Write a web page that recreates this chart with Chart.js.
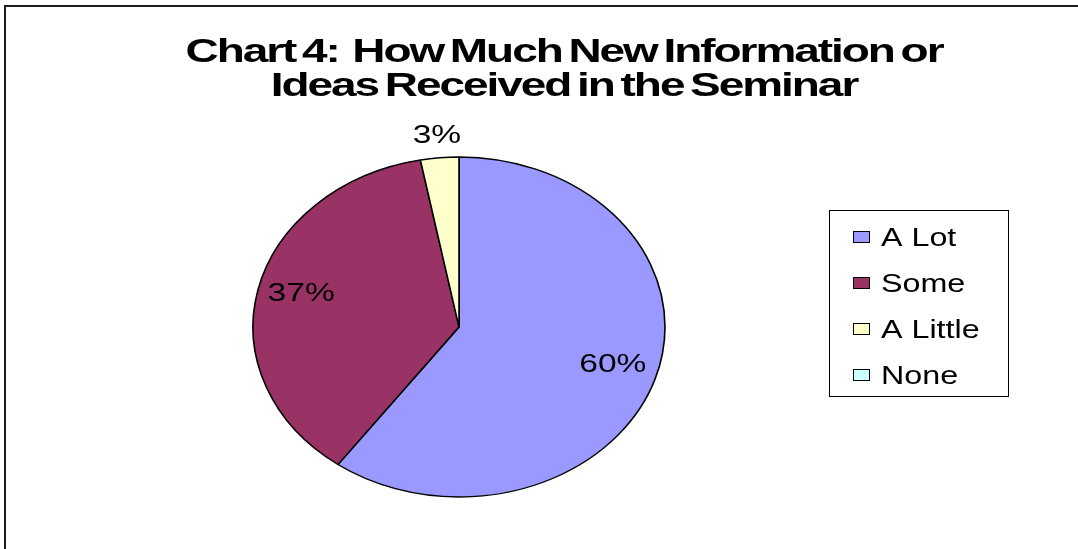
<!DOCTYPE html>
<html><head><meta charset="utf-8">
<script src="https://cdn.jsdelivr.net/npm/chart.js@4/dist/chart.umd.min.js"></script>
<style>html,body{margin:0;padding:0;background:#fff;overflow:hidden}canvas{display:block}</style>
</head><body>
<canvas id="c" width="1078" height="549"></canvas>
<script>
const titleLines = ['Chart 4:  How Much New Information or', 'Ideas Received in the Seminar'];
const categories = ['A Lot', 'Some', 'A Little', 'None'];
const percentValues = [60, 37, 3, 0];
const sliceColors = ['#9999FF', '#993366', '#FFFFCC', '#CCFFFF'];

const FONT = '"Liberation Sans", Arial, Helvetica, sans-serif';
const Y_RATIO = 170 / 206;
const TEXT_SX = 1.29;

function stretchText(ctx, text, x, y, sx, align) {
  const w = ctx.measureText(text).width * sx;
  const left = align === 'center' ? x - w / 2 : x;
  ctx.save();
  ctx.translate(left, y);
  ctx.scale(sx, 1);
  ctx.textAlign = 'left';
  ctx.textBaseline = 'alphabetic';
  ctx.fillText(text, 0, 0);
  ctx.restore();
}

const ellipsePlugin = {
  id: 'ellipsePie',
  beforeDraw(chart) {
    const ctx = chart.ctx;
    ctx.save();
    ctx.fillStyle = '#ffffff';
    ctx.fillRect(0, 0, chart.width, chart.height);
    ctx.fillStyle = '#1e1e1e';
    ctx.fillRect(4, 5, 2, chart.height - 5);
    ctx.fillRect(4, 5, chart.width - 4, 2);
    ctx.restore();
  },
  beforeDatasetsDraw(chart) {
    const arc = chart.getDatasetMeta(0).data[0];
    const ctx = chart.ctx;
    ctx.save();
    ctx.translate(arc.x, arc.y);
    ctx.scale(1, Y_RATIO);
    ctx.translate(-arc.x, -arc.y);
  },
  afterDatasetsDraw(chart) {
    const ctx = chart.ctx;
    ctx.restore();
    const meta = chart.getDatasetMeta(0);
    const data = chart.data.datasets[0].data;
    const total = data.reduce((a, b) => a + b, 0);
    ctx.save();
    ctx.fillStyle = '#000';
    ctx.font = '26px ' + FONT;
    meta.data.forEach((arc, i) => {
      const v = data[i];
      if (!v) return;
      const pct = Math.round(v / total * 100);
      const p = arc.getProps(['x', 'y', 'startAngle', 'endAngle', 'outerRadius'], true);
      const mid = (p.startAngle + p.endAngle) / 2;
      const inside = pct >= 5;
      const k = inside ? 0.785 : 1.14;
      const dy = inside ? -6 : 0;
      const lx = p.x + Math.cos(mid) * p.outerRadius * k;
      const ly = p.y + Math.sin(mid) * p.outerRadius * k * Y_RATIO + dy;
      stretchText(ctx, pct + '%', lx, ly + 9.3, TEXT_SX, 'center');
    });
    ctx.restore();
  },
  afterDraw(chart) {
    const ctx = chart.ctx;
    ctx.save();
    // title
    ctx.fillStyle = '#000';
    ctx.font = 'bold 34px ' + FONT;
    try { ctx.letterSpacing = '-1.5px'; ctx.wordSpacing = '-3px'; } catch (e) {}
    const tsx = 757 / ctx.measureText(titleLines[0]).width;
    stretchText(ctx, titleLines[0], 564, 62, tsx, 'center');
    stretchText(ctx, titleLines[1], 564, 96, tsx, 'center');
    try { ctx.letterSpacing = '0px'; ctx.wordSpacing = '0px'; } catch (e) {}
    // legend
    ctx.strokeStyle = '#000';
    ctx.lineWidth = 1;
    ctx.strokeRect(829.5, 210.5, 179, 186);
    ctx.font = '25px ' + FONT;
    chart.data.labels.forEach((lab, i) => {
      const cy = 237 + i * 46;
      ctx.fillStyle = chart.data.datasets[0].backgroundColor[i];
      ctx.fillRect(853, cy - 6, 17, 12);
      ctx.strokeRect(853.5, cy - 5.5, 16, 11);
      ctx.fillStyle = '#000';
      stretchText(ctx, lab, 881, cy + 9, TEXT_SX, 'left');
    });
    ctx.restore();
  }
};

new Chart(document.getElementById('c'), {
  type: 'pie',
  data: {
    labels: categories,
    datasets: [{
      data: percentValues,
      backgroundColor: sliceColors,
      borderColor: '#000000',
      borderWidth: 1.6,
      radius: 206
    }]
  },
  options: {
    responsive: false,
    devicePixelRatio: 1,
    animation: false,
    events: [],
    layout: { padding: { left: 253, right: 413, top: 121, bottom: 16 } },
    plugins: {
      legend: { display: false },
      title: { display: false },
      tooltip: { enabled: false }
    }
  },
  plugins: [ellipsePlugin]
});
</script>
</body></html>
